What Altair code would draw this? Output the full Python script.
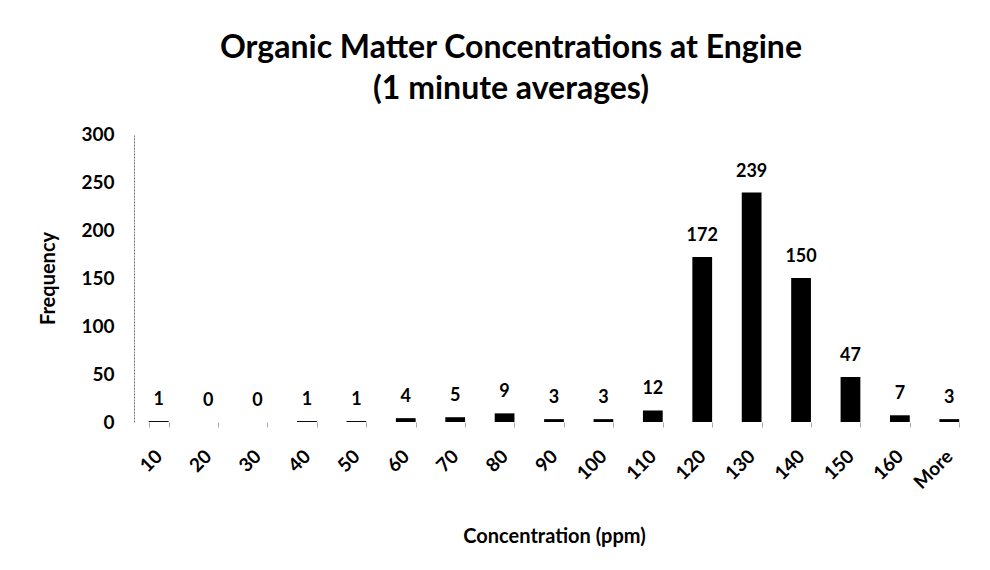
import altair as alt
import pandas as pd

categories = ["10", "20", "30", "40", "50", "60", "70", "80", "90", "100",
              "110", "120", "130", "140", "150", "160", "More"]
frequency = [1, 0, 0, 1, 1, 4, 5, 9, 3, 3, 12, 172, 239, 150, 47, 7, 3]

df = pd.DataFrame({"bin": categories, "freq": frequency})

FONT = "Lato"

x_enc = alt.X(
    "bin:N",
    sort=categories,
    title="Concentration (ppm)",
    scale=alt.Scale(paddingInner=0.6),
    axis=alt.Axis(
        labelAngle=-45,
        labelAlign="right",
        labelBaseline="middle",
        labelPadding=26,
        labelFont=FONT,
        labelFontWeight="bold",
        labelFontSize=19,
        labelColor="black",
        titleFont=FONT,
        titleFontWeight="bold",
        titleFontSize=20,
        titleColor="black",
        titlePadding=34,
        domain=False,
        ticks=True,
        tickBand="extent",
        tickSize=5,
        tickColor="#aaaaaa",
    ),
)

y_enc = alt.Y(
    "freq:Q",
    title="Frequency",
    scale=alt.Scale(domain=[0, 300], nice=False),
    axis=alt.Axis(
        values=[0, 50, 100, 150, 200, 250, 300],
        grid=False,
        ticks=False,
        domain=True,
        domainColor="#777777",
        domainDash=[2, 1],
        labelPadding=20,
        labelFont=FONT,
        labelFontWeight="bold",
        labelFontSize=19,
        labelColor="black",
        titleFont=FONT,
        titleFontWeight="bold",
        titleFontSize=20,
        titleColor="black",
        titlePadding=22,
    ),
)

bars = alt.Chart(df).mark_bar(color="black").encode(x=x_enc, y=y_enc)

labels = alt.Chart(df).mark_text(
    font=FONT, fontWeight="bold", fontSize=18, color="black",
    baseline="alphabetic", dy=-16,
).encode(x=alt.X("bin:N", sort=categories), y="freq:Q", text="freq:Q")

chart = (
    alt.layer(bars, labels)
    .properties(
        width=840,
        height=288,
        padding={"left": 126, "top": 126, "right": 8, "bottom": 140},
        autosize=alt.AutoSizeParams(type="none"),
        view=alt.ViewConfig(stroke="transparent", strokeWidth=0),
        title=alt.TitleParams(
            text=["Organic Matter Concentrations at Engine", "(1 minute averages)"],
            font=FONT,
            fontWeight="bold",
            fontSize=32,
            color="black",
            anchor="middle",
            dx=-43,
            offset=19,
            lineHeight=41,
        ),
    )
    .configure_view(stroke="transparent", strokeWidth=0)
    .configure(background="white")
)

chart.save("out.html", embed_options={"renderer": "svg", "actions": False})
